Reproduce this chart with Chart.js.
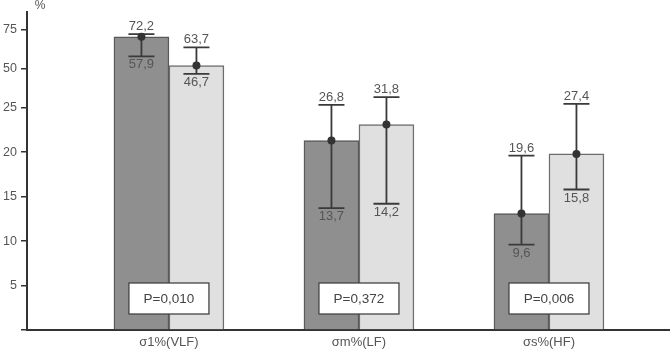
<!DOCTYPE html>
<html><head><meta charset="utf-8">
<script src="https://cdn.jsdelivr.net/npm/chart.js@4/dist/chart.umd.min.js"></script>
<style>html,body{margin:0;padding:0;background:#fff}#wrap{width:670px;height:350px}</style>
</head><body><div id="wrap"><canvas id="c" width="670" height="350"></canvas></div>
<script>
const categories = ['σ1%(VLF)', 'σm%(LF)', 'σs%(HF)'];
const groupAMedian = [70.5, 21.3, 13.1];
const groupALow = [57.9, 13.7, 9.6];
const groupAHigh = [72.2, 26.8, 19.6];
const groupBMedian = [52, 23.1, 19.8];
const groupBLow = [46.7, 14.2, 15.8];
const groupBHigh = [63.7, 31.8, 27.4];
const pValues = ['P=0,010', 'P=0,372', 'P=0,006'];
const yTicks = [0, 5, 10, 15, 20, 25, 50, 75];

const FONT = '"Liberation Sans", Arial, sans-serif';
const BREAK_AT = 25, BREAK_FRAC = 0.698;
const fmt = v => v.toFixed(1).replace('.', ',');

class BrokenScale extends Chart.LinearScale {
  buildTicks() { return yTicks.map(v => ({ value: v })); }
  toDecimal(v) {
    if (v <= BREAK_AT) return (v - this.min) / (BREAK_AT - this.min) * BREAK_FRAC;
    return BREAK_FRAC + (v - BREAK_AT) / (this.max - BREAK_AT) * (1 - BREAK_FRAC);
  }
  getPixelForValue(value) {
    return value === null ? NaN : this.getPixelForDecimal(this.toDecimal(value));
  }
  getValueForPixel(pixel) {
    const d = this.getDecimalForPixel(pixel);
    if (d <= BREAK_FRAC) return this.min + d / BREAK_FRAC * (BREAK_AT - this.min);
    return BREAK_AT + (d - BREAK_FRAC) / (1 - BREAK_FRAC) * (this.max - BREAK_AT);
  }
}
BrokenScale.id = 'broken';
BrokenScale.defaults = Chart.LinearScale.defaults;
Chart.register(BrokenScale);

const overlay = {
  id: 'overlay',
  afterDatasetsDraw(chart) {
    const ctx = chart.ctx, ys = chart.scales.y, xs = chart.scales.x;
    const ranges = [[groupALow, groupAHigh], [groupBLow, groupBHigh]];
    ctx.save();
    ctx.font = '13px ' + FONT;
    chart.data.datasets.forEach((ds, di) => {
      const meta = chart.getDatasetMeta(di);
      meta.data.forEach((bar, i) => {
        const x = bar.x;
        const lo = ranges[di][0][i], hi = ranges[di][1][i];
        const yl = ys.getPixelForValue(lo), yh = ys.getPixelForValue(hi);
        ctx.strokeStyle = '#3a3a3a'; ctx.lineWidth = 1.8;
        ctx.beginPath();
        ctx.moveTo(x, yl); ctx.lineTo(x, yh);
        ctx.moveTo(x - 13, yl); ctx.lineTo(x + 13, yl);
        ctx.moveTo(x - 13, yh); ctx.lineTo(x + 13, yh);
        ctx.stroke();
        ctx.fillStyle = '#333';
        ctx.beginPath(); ctx.arc(x, bar.y, 4, 0, Math.PI * 2); ctx.fill();
        ctx.fillStyle = '#555'; ctx.textAlign = 'center';
        ctx.textBaseline = 'bottom'; ctx.fillText(fmt(hi), x, yh - 1);
        ctx.textBaseline = 'top'; ctx.fillText(fmt(lo), x, yl + 2);
      });
    });
    // P-value boxes
    ctx.font = '13.5px ' + FONT;
    pValues.forEach((p, i) => {
      const cx = xs.getPixelForValue(i + 1);
      const w = 80, h = 31, cy = chart.chartArea.bottom - 31.5;
      ctx.fillStyle = '#fff'; ctx.strokeStyle = '#444'; ctx.lineWidth = 1.3;
      ctx.fillRect(cx - w / 2, cy - h / 2, w, h);
      ctx.strokeRect(cx - w / 2, cy - h / 2, w, h);
      ctx.fillStyle = '#444'; ctx.textAlign = 'center'; ctx.textBaseline = 'middle';
      ctx.fillText(p, cx, cy + 1);
    });
    // unit label
    ctx.font = '12px ' + FONT;
    ctx.fillStyle = '#555'; ctx.textAlign = 'center'; ctx.textBaseline = 'middle';
    ctx.fillText('%', chart.chartArea.left + 13, 6);
    ctx.restore();
  }
};

new Chart(document.getElementById('c'), {
  type: 'bar',
  data: {
    datasets: [
      { label: 'A', data: groupAMedian.map((v, i) => ({ x: i + 1, y: v })),
        backgroundColor: '#8f8f8f', borderColor: '#5a5a5a', borderWidth: 1.5 },
      { label: 'B', data: groupBMedian.map((v, i) => ({ x: i + 1, y: v })),
        backgroundColor: '#e0e0e0', borderColor: '#6e6e6e', borderWidth: 1.5 }
    ]
  },
  options: {
    responsive: false,
    animation: false,
    devicePixelRatio: 1,
    barThickness: 55,
    layout: { padding: { top: 10, left: 0, right: 0, bottom: 0 } },
    plugins: { legend: { display: false }, tooltip: { enabled: false } },
    scales: {
      x: {
        type: 'linear', min: 0.253, max: 3.637, offset: false,
        afterBuildTicks: s => { s.ticks = categories.map((c, i) => ({ value: i + 1 })); },
        afterFit: s => { s.height = 20; },
        grid: { display: false, drawTicks: false, offset: false },
        border: { display: true, color: '#333', width: 2 },
        ticks: { padding: 5, color: '#555', font: { family: FONT, size: 13 },
          autoSkip: false, maxRotation: 0,
          callback: v => categories[Math.round(v) - 1] || '' }
      },
      y: {
        type: 'broken', min: 0, max: 86.7,
        afterFit: s => { s.width = 27; },
        grid: { display: true, drawOnChartArea: false, drawTicks: true, tickLength: 6, color: '#333', lineWidth: 1.5 },
        border: { display: true, color: '#333', width: 2 },
        ticks: { padding: 4, color: '#555', font: { family: FONT, size: 12.5 },
          autoSkip: false, callback: v => (v === 0 ? '' : String(v)) }
      }
    }
  },
  plugins: [overlay]
});
</script></body></html>
